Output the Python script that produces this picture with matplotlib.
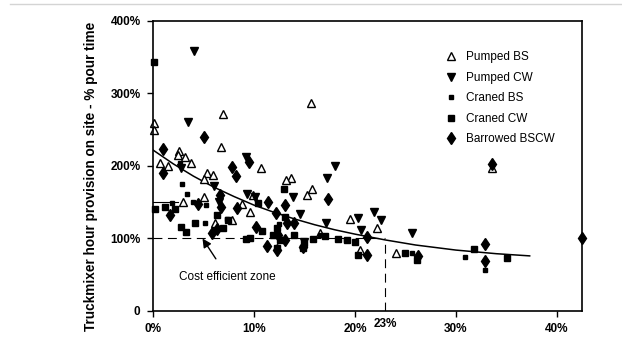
import matplotlib
matplotlib.use("Agg")
from matplotlib import pyplot as plt
from matplotlib.lines import Line2D

plt.rcParams['font.family'] = ['Liberation Sans', 'DejaVu Sans']

# Pumped BS (open triangles)
pumped_bs_x = [0.1, 0.1, 0.7, 1.5, 2.6, 2.5, 3.2, 3.8, 6.9, 6.7, 5.3, 5.9, 5.0, 15.6, 10.7,
               13.7, 13.2, 5.0, 3.0, 6.1, 7.8, 9.9, 9.6, 8.8, 15.7, 15.2, 19.5, 20.5, 22.2,
               16.5, 24.1, 33.6]
pumped_bs_y = [259, 249, 204, 200, 221, 215, 212, 204, 272, 226, 190, 187, 182, 287, 197,
               183, 180, 157, 150, 121, 125, 160, 136, 148, 168, 160, 127, 84, 114,
               107, 80, 197]

# Pumped CW (down triangles)
pumped_cw_x = [4.1, 3.5, 9.2, 18.0, 17.2, 2.8, 6.0, 6.5, 9.3, 10.1, 13.9, 14.6, 17.1,
               20.3, 20.6, 21.9, 22.6, 15.0, 25.6]
pumped_cw_y = [358, 260, 213, 200, 184, 197, 172, 150, 161, 157, 157, 134, 122,
               128, 112, 136, 126, 95, 108]

# Craned BS (small squares)
craned_bs_x = [2.9, 1.9, 5.2, 5.1, 19.1, 7.3, 14.8, 25.6, 30.9, 32.9, 3.4, 2.7, 4.0, 12.5, 16.5]
craned_bs_y = [175, 149, 146, 122, 98, 127, 88, 80, 74, 56, 162, 204, 150, 120, 105]

# Craned CW (squares)
craned_cw_x = [0.1, 0.2, 1.2, 2.2, 2.8, 3.3, 4.2, 6.3, 7.4, 6.9, 9.2, 9.6, 10.4, 10.8, 13.0,
               13.1, 12.3, 11.9, 12.6, 14.0, 14.9, 15.0, 15.8, 17.0, 18.3, 19.2, 20.0, 20.3,
               25.0, 26.1, 31.8, 35.1, 12.3]
craned_cw_y = [344, 140, 143, 140, 116, 109, 122, 133, 125, 114, 99, 100, 149, 111, 168,
               129, 114, 105, 98, 105, 87, 94, 99, 103, 99, 98, 95, 77,
               80, 70, 85, 73, 87]

# Barrowed BSCW (diamonds)
barrowed_x = [1.0, 1.0, 5.0, 7.8, 8.2, 9.5, 1.7, 4.5, 6.6, 6.7, 8.3, 5.8, 6.3, 10.2, 11.3,
              11.4, 12.2, 12.3, 12.4, 13.1, 13.3, 14.0, 13.1, 14.9, 17.3, 21.2, 21.2, 26.2,
              32.9, 32.9, 42.5, 33.6]
barrowed_y = [224, 191, 240, 198, 186, 205, 132, 148, 160, 143, 142, 108, 113, 116, 89,
              150, 135, 84, 105, 146, 121, 122, 98, 88, 155, 102, 77, 76,
              93, 69, 100, 203]

# trend curve
curve_x = [0, 2, 4, 6, 8, 10, 12, 14, 16, 18, 20, 23, 26, 30, 34, 37.3]
curve_y = [222, 203, 186, 171, 158, 146, 136, 127, 119, 112, 106, 98, 91, 84, 79, 76]

xticks = [0, 10, 20, 30, 40]
xtick_labels = ['0%', '10%', '20%', '30%', '40%']
yticks = [0, 100, 200, 300, 400]
ytick_labels = ['0', '100%', '200%', '300%', '400%']

fig = plt.figure(figsize=(6.22, 3.45), dpi=100)
ax = fig.add_axes([0.246, 0.0986, 0.69, 0.8406])

ax.plot(curve_x, curve_y, color='black', lw=1.1)
ax.plot([0, 23], [100, 100], color='black', lw=0.8, dashes=(8, 5))
ax.plot([23, 23], [0, 98], color='black', lw=0.8, dashes=(8, 5))
ax.plot([0, 2.5], [150, 150], color='black', lw=0.8)

ax.plot(pumped_bs_x, pumped_bs_y, ls='none', marker='^', ms=6.3, mfc='white', mec='black',
        mew=1.0, label='Pumped BS', clip_on=False)
ax.plot(pumped_cw_x, pumped_cw_y, ls='none', marker='v', ms=5.3, color='black',
        label='Pumped CW', clip_on=False)
ax.plot(craned_bs_x, craned_bs_y, ls='none', marker='s', ms=2.6, color='black',
        label='Craned BS', clip_on=False)
ax.plot(craned_cw_x, craned_cw_y, ls='none', marker='s', ms=5, color='black',
        label='Craned CW', clip_on=False)
ax.plot(barrowed_x, barrowed_y, ls='none', marker='d', ms=6.2, color='black',
        label='Barrowed BSCW', clip_on=False)

ax.set_xlim(0, 42.5)
ax.set_ylim(0, 400)
ax.set_xticks(xticks)
ax.set_xticklabels(xtick_labels, fontsize=8.5, fontweight='bold')
ax.set_yticks(yticks)
ax.set_yticklabels(ytick_labels, fontsize=8.5, fontweight='bold')
ax.tick_params(direction='out', length=4, width=1, pad=5)
for s in ax.spines.values():
    s.set_linewidth(1.2)

ax.set_ylabel('Truckmixer hour provision on site - % pour time', fontsize=9.8,
              fontweight='bold')
ax.yaxis.set_label_coords(-0.128, 0.464)

ax.text(23, -18, '23%', ha='center', va='center', fontsize=8.5, fontweight='bold',
        clip_on=False)

ax.annotate('Cost efficient zone', xy=(4.9, 100), xytext=(7.4, 47), ha='center',
            va='center', fontsize=8.5,
            arrowprops=dict(arrowstyle='-|>', color='black', lw=1, shrinkA=8, shrinkB=0,
                            mutation_scale=13))

ax.legend(loc='upper left', bbox_to_anchor=(0.68, 0.895), frameon=False, fontsize=8.5,
          borderpad=0, handlelength=1, handletextpad=0.8, labelspacing=0.72,
          numpoints=1, borderaxespad=0)

fig.add_artist(Line2D([0.016, 1], [0.988, 0.988], color='#d4d4d4', lw=1))

fig.savefig('out.png', dpi=100)
